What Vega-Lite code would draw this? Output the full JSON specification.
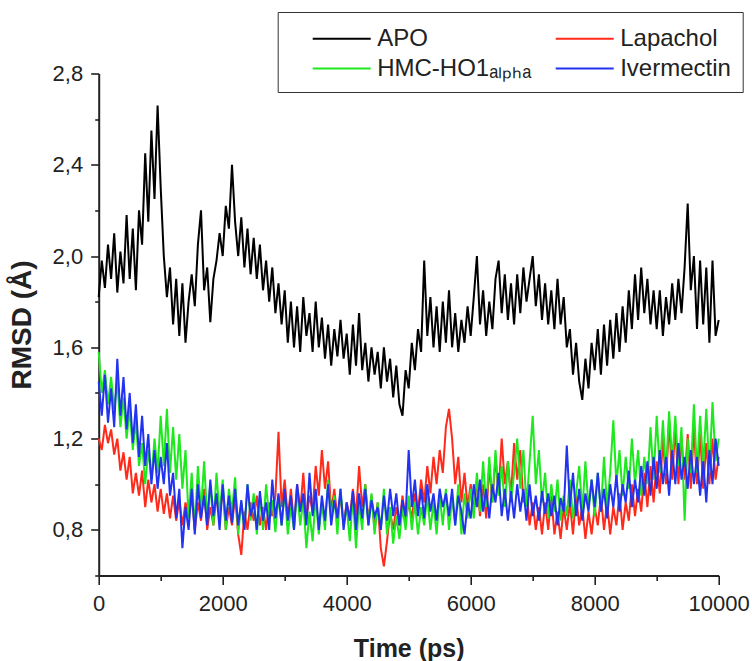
{
  "$schema": "https://vega.github.io/schema/vega-lite/v6.json",
  "width": 620,
  "height": 502,
  "autosize": {"type": "none"},
  "padding": {"left": 98.7, "top": 73.5, "right": 33.3, "bottom": 85.5},
  "background": "white",
  "config": {
    "view": {"stroke": null},
    "font": "Liberation Sans",
    "axis": {
      "domainColor": "#222", "domainWidth": 2, "tickColor": "#222", "tickWidth": 1.6,
      "labelFont": "Liberation Sans", "labelFontSize": 22, "labelColor": "#222",
      "titleFont": "Liberation Sans", "titleFontWeight": "bold", "titleColor": "#222", "grid": false
    }
  },
  "data": {"values": [
{"t":0,"a":1.82,"l":1.2,"h":1.58,"i":1.45},
{"t":50,"a":1.98,"l":1.15,"h":1.4,"i":1.3},
{"t":100,"a":1.86,"l":1.26,"h":1.5,"i":1.48},
{"t":150,"a":2.05,"l":1.18,"h":1.35,"i":1.27},
{"t":200,"a":1.9,"l":1.24,"h":1.47,"i":1.42},
{"t":250,"a":2.1,"l":1.13,"h":1.33,"i":1.25},
{"t":300,"a":1.84,"l":1.2,"h":1.45,"i":1.55},
{"t":350,"a":2.02,"l":1.06,"h":1.25,"i":1.3},
{"t":400,"a":1.88,"l":1.14,"h":1.38,"i":1.47},
{"t":450,"a":2.18,"l":1.02,"h":1.2,"i":1.24},
{"t":500,"a":1.9,"l":1.12,"h":1.33,"i":1.4},
{"t":550,"a":2.12,"l":0.96,"h":1.15,"i":1.18},
{"t":600,"a":1.85,"l":1.05,"h":1.28,"i":1.35},
{"t":650,"a":2.2,"l":0.95,"h":1.08,"i":1.12},
{"t":700,"a":2.05,"l":1.06,"h":1.18,"i":1.3},
{"t":750,"a":2.45,"l":0.9,"h":1.0,"i":1.08},
{"t":800,"a":2.15,"l":1.02,"h":1.15,"i":1.22},
{"t":850,"a":2.55,"l":0.92,"h":1.02,"i":1.0},
{"t":900,"a":2.25,"l":1.0,"h":1.2,"i":1.15},
{"t":950,"a":2.66,"l":0.88,"h":1.05,"i":0.98},
{"t":1000,"a":2.3,"l":0.98,"h":1.3,"i":1.12},
{"t":1050,"a":2.0,"l":0.87,"h":1.08,"i":1.0},
{"t":1100,"a":1.82,"l":0.96,"h":1.33,"i":1.18},
{"t":1150,"a":1.95,"l":0.85,"h":1.05,"i":0.95},
{"t":1200,"a":1.7,"l":0.95,"h":1.25,"i":1.05},
{"t":1250,"a":1.9,"l":0.84,"h":1.02,"i":0.85},
{"t":1300,"a":1.65,"l":0.93,"h":1.22,"i":0.98},
{"t":1350,"a":1.88,"l":0.82,"h":0.98,"i":0.72},
{"t":1400,"a":1.62,"l":0.92,"h":1.15,"i":0.9},
{"t":1450,"a":1.8,"l":0.86,"h":0.85,"i":0.8},
{"t":1500,"a":1.92,"l":0.95,"h":1.05,"i":0.98},
{"t":1550,"a":1.78,"l":0.8,"h":0.8,"i":0.78},
{"t":1600,"a":2.05,"l":0.92,"h":1.08,"i":1.0},
{"t":1650,"a":2.2,"l":0.84,"h":0.88,"i":0.85},
{"t":1700,"a":1.85,"l":0.98,"h":1.1,"i":0.95},
{"t":1750,"a":1.95,"l":0.8,"h":0.85,"i":0.82},
{"t":1800,"a":1.71,"l":0.9,"h":1.0,"i":1.02},
{"t":1850,"a":1.9,"l":0.82,"h":0.82,"i":0.86},
{"t":1900,"a":1.98,"l":0.95,"h":1.05,"i":0.96},
{"t":1950,"a":2.1,"l":0.86,"h":0.86,"i":0.8},
{"t":2000,"a":2.0,"l":0.98,"h":1.02,"i":1.0},
{"t":2050,"a":2.22,"l":0.8,"h":0.8,"i":0.84},
{"t":2100,"a":2.12,"l":0.9,"h":0.98,"i":0.95},
{"t":2150,"a":2.4,"l":0.82,"h":0.88,"i":0.83},
{"t":2200,"a":2.15,"l":0.95,"h":1.03,"i":0.98},
{"t":2250,"a":2.0,"l":0.78,"h":0.78,"i":0.82},
{"t":2300,"a":2.17,"l":0.69,"h":0.92,"i":0.93},
{"t":2350,"a":1.95,"l":0.88,"h":0.8,"i":0.8},
{"t":2400,"a":2.12,"l":0.8,"h":1.0,"i":1.0},
{"t":2450,"a":1.92,"l":0.92,"h":0.84,"i":0.86},
{"t":2500,"a":2.08,"l":0.84,"h":0.96,"i":0.92},
{"t":2550,"a":1.9,"l":0.95,"h":0.78,"i":0.8},
{"t":2600,"a":2.05,"l":0.82,"h":0.95,"i":0.97},
{"t":2650,"a":1.85,"l":0.9,"h":0.8,"i":0.84},
{"t":2700,"a":1.98,"l":0.8,"h":1.0,"i":0.92},
{"t":2750,"a":1.8,"l":0.92,"h":0.85,"i":0.8},
{"t":2800,"a":1.95,"l":0.86,"h":0.93,"i":1.02},
{"t":2850,"a":1.75,"l":0.95,"h":0.79,"i":0.85},
{"t":2900,"a":1.88,"l":1.23,"h":0.95,"i":0.96},
{"t":2950,"a":1.7,"l":0.9,"h":0.82,"i":0.82},
{"t":3000,"a":1.85,"l":1.02,"h":0.97,"i":0.98},
{"t":3050,"a":1.62,"l":0.85,"h":0.78,"i":0.84},
{"t":3100,"a":1.8,"l":0.98,"h":0.9,"i":0.95},
{"t":3150,"a":1.6,"l":0.82,"h":0.8,"i":0.8},
{"t":3200,"a":1.78,"l":1.0,"h":0.98,"i":1.0},
{"t":3250,"a":1.58,"l":0.88,"h":0.82,"i":0.88},
{"t":3300,"a":1.82,"l":1.05,"h":0.93,"i":0.96},
{"t":3350,"a":1.65,"l":0.85,"h":0.72,"i":0.82},
{"t":3400,"a":1.75,"l":0.95,"h":0.88,"i":1.05},
{"t":3450,"a":1.58,"l":0.88,"h":0.75,"i":0.86},
{"t":3500,"a":1.8,"l":1.08,"h":0.95,"i":0.98},
{"t":3550,"a":1.6,"l":0.95,"h":0.78,"i":0.8},
{"t":3600,"a":1.73,"l":1.15,"h":0.92,"i":0.95},
{"t":3650,"a":1.55,"l":0.98,"h":0.8,"i":0.84},
{"t":3700,"a":1.7,"l":1.1,"h":1.02,"i":1.0},
{"t":3750,"a":1.52,"l":0.88,"h":0.85,"i":0.82},
{"t":3800,"a":1.68,"l":0.98,"h":0.95,"i":0.93},
{"t":3850,"a":1.56,"l":0.85,"h":0.78,"i":0.85},
{"t":3900,"a":1.72,"l":0.95,"h":0.98,"i":0.98},
{"t":3950,"a":1.55,"l":0.82,"h":0.82,"i":0.8},
{"t":4000,"a":1.66,"l":0.92,"h":0.9,"i":0.92},
{"t":4050,"a":1.48,"l":0.85,"h":0.75,"i":0.84},
{"t":4100,"a":1.7,"l":0.98,"h":0.95,"i":0.97},
{"t":4150,"a":1.52,"l":0.86,"h":0.72,"i":0.8},
{"t":4200,"a":1.75,"l":1.08,"h":0.92,"i":0.96},
{"t":4250,"a":1.5,"l":0.9,"h":0.8,"i":0.85},
{"t":4300,"a":1.62,"l":1.0,"h":1.0,"i":0.98},
{"t":4350,"a":1.45,"l":0.84,"h":0.82,"i":0.82},
{"t":4400,"a":1.6,"l":0.95,"h":0.96,"i":0.93},
{"t":4450,"a":1.48,"l":0.8,"h":0.78,"i":0.86},
{"t":4500,"a":1.58,"l":0.92,"h":0.92,"i":0.9},
{"t":4550,"a":1.42,"l":0.72,"h":0.8,"i":0.8},
{"t":4600,"a":1.6,"l":0.64,"h":0.98,"i":0.95},
{"t":4650,"a":1.45,"l":0.75,"h":0.78,"i":0.84},
{"t":4700,"a":1.55,"l":0.88,"h":0.9,"i":0.98},
{"t":4750,"a":1.38,"l":0.8,"h":0.74,"i":0.86},
{"t":4800,"a":1.52,"l":0.9,"h":0.86,"i":0.96},
{"t":4850,"a":1.35,"l":0.82,"h":0.76,"i":0.82},
{"t":4900,"a":1.3,"l":0.95,"h":0.9,"i":0.93},
{"t":4950,"a":1.5,"l":0.84,"h":0.8,"i":0.86},
{"t":5000,"a":1.42,"l":0.92,"h":0.95,"i":1.15},
{"t":5050,"a":1.62,"l":0.85,"h":0.8,"i":0.9},
{"t":5100,"a":1.5,"l":0.96,"h":0.92,"i":1.02},
{"t":5150,"a":1.68,"l":0.88,"h":0.78,"i":0.86},
{"t":5200,"a":1.58,"l":1.02,"h":0.9,"i":0.98},
{"t":5250,"a":1.98,"l":0.92,"h":0.82,"i":0.85},
{"t":5300,"a":1.65,"l":1.08,"h":0.95,"i":1.0},
{"t":5350,"a":1.82,"l":0.96,"h":0.8,"i":0.88},
{"t":5400,"a":1.6,"l":1.12,"h":0.92,"i":0.96},
{"t":5450,"a":1.78,"l":1.0,"h":0.78,"i":0.84},
{"t":5500,"a":1.58,"l":1.15,"h":0.95,"i":0.98},
{"t":5550,"a":1.8,"l":1.05,"h":0.82,"i":0.9},
{"t":5600,"a":1.62,"l":1.25,"h":0.98,"i":0.96},
{"t":5650,"a":1.85,"l":1.33,"h":0.8,"i":0.86},
{"t":5700,"a":1.6,"l":1.2,"h":0.94,"i":0.98},
{"t":5750,"a":1.75,"l":1.0,"h":0.82,"i":0.82},
{"t":5800,"a":1.58,"l":1.12,"h":1.0,"i":0.95},
{"t":5850,"a":1.72,"l":0.92,"h":0.78,"i":0.88},
{"t":5900,"a":1.62,"l":1.05,"h":0.96,"i":0.78},
{"t":5950,"a":1.78,"l":0.9,"h":0.85,"i":0.92},
{"t":6000,"a":1.65,"l":1.0,"h":0.98,"i":0.85},
{"t":6050,"a":1.82,"l":0.88,"h":0.85,"i":1.0},
{"t":6100,"a":2.0,"l":1.02,"h":1.05,"i":0.9},
{"t":6150,"a":1.7,"l":0.86,"h":0.88,"i":1.02},
{"t":6200,"a":1.85,"l":1.0,"h":1.1,"i":0.88},
{"t":6250,"a":1.65,"l":0.85,"h":0.9,"i":0.98},
{"t":6300,"a":1.8,"l":1.08,"h":1.12,"i":0.85},
{"t":6350,"a":1.68,"l":0.92,"h":0.92,"i":1.0},
{"t":6400,"a":1.9,"l":1.12,"h":1.15,"i":0.92},
{"t":6450,"a":1.98,"l":0.96,"h":0.95,"i":1.05},
{"t":6500,"a":1.75,"l":1.2,"h":1.08,"i":0.86},
{"t":6550,"a":1.92,"l":1.0,"h":0.9,"i":0.98},
{"t":6600,"a":1.72,"l":1.1,"h":1.1,"i":0.84},
{"t":6650,"a":1.88,"l":0.95,"h":0.92,"i":0.97},
{"t":6700,"a":1.7,"l":1.18,"h":1.05,"i":0.85},
{"t":6750,"a":1.92,"l":1.02,"h":1.2,"i":1.0},
{"t":6800,"a":1.75,"l":1.15,"h":0.98,"i":0.88},
{"t":6850,"a":1.95,"l":0.92,"h":1.15,"i":0.98},
{"t":6900,"a":1.8,"l":0.98,"h":0.9,"i":0.84},
{"t":6950,"a":1.9,"l":0.82,"h":1.1,"i":1.0},
{"t":7000,"a":2.0,"l":0.92,"h":1.3,"i":0.86},
{"t":7050,"a":1.78,"l":0.8,"h":1.0,"i":0.95},
{"t":7100,"a":1.92,"l":0.9,"h":1.15,"i":0.84},
{"t":7150,"a":1.72,"l":0.78,"h":0.92,"i":0.97},
{"t":7200,"a":1.88,"l":0.92,"h":1.05,"i":0.87},
{"t":7250,"a":1.7,"l":0.8,"h":0.85,"i":0.96},
{"t":7300,"a":1.85,"l":0.95,"h":1.0,"i":0.86},
{"t":7350,"a":1.68,"l":0.78,"h":0.88,"i":0.95},
{"t":7400,"a":1.9,"l":0.88,"h":1.02,"i":0.82},
{"t":7450,"a":1.7,"l":0.76,"h":0.84,"i":0.94},
{"t":7500,"a":1.82,"l":0.9,"h":0.95,"i":0.88},
{"t":7550,"a":1.6,"l":0.8,"h":0.86,"i":1.17},
{"t":7600,"a":1.68,"l":0.92,"h":1.02,"i":0.9},
{"t":7650,"a":1.48,"l":0.78,"h":0.85,"i":1.05},
{"t":7700,"a":1.62,"l":0.95,"h":0.96,"i":0.86},
{"t":7750,"a":1.45,"l":0.82,"h":1.08,"i":0.98},
{"t":7800,"a":1.37,"l":0.9,"h":0.88,"i":0.84},
{"t":7850,"a":1.55,"l":0.76,"h":1.1,"i":0.96},
{"t":7900,"a":1.42,"l":0.88,"h":0.9,"i":0.88},
{"t":7950,"a":1.62,"l":0.78,"h":1.02,"i":1.02},
{"t":8000,"a":1.5,"l":0.9,"h":0.86,"i":0.9},
{"t":8050,"a":1.68,"l":0.82,"h":1.05,"i":1.05},
{"t":8100,"a":1.48,"l":0.95,"h":0.88,"i":0.88},
{"t":8150,"a":1.7,"l":0.8,"h":1.12,"i":0.98},
{"t":8200,"a":1.52,"l":0.92,"h":0.9,"i":0.85},
{"t":8250,"a":1.72,"l":0.78,"h":1.05,"i":1.0},
{"t":8300,"a":1.55,"l":0.9,"h":1.28,"i":0.9},
{"t":8350,"a":1.75,"l":0.82,"h":1.0,"i":1.04},
{"t":8400,"a":1.58,"l":0.96,"h":1.15,"i":0.88},
{"t":8450,"a":1.78,"l":0.8,"h":0.95,"i":1.0},
{"t":8500,"a":1.62,"l":0.92,"h":1.12,"i":0.92},
{"t":8550,"a":1.85,"l":0.84,"h":0.98,"i":1.06},
{"t":8600,"a":1.68,"l":1.0,"h":1.2,"i":0.9},
{"t":8650,"a":1.92,"l":0.86,"h":1.0,"i":1.02},
{"t":8700,"a":1.72,"l":0.98,"h":1.15,"i":0.92},
{"t":8750,"a":1.95,"l":0.88,"h":0.95,"i":1.08},
{"t":8800,"a":1.75,"l":1.05,"h":1.12,"i":0.95},
{"t":8850,"a":1.9,"l":0.9,"h":1.0,"i":1.1},
{"t":8900,"a":1.7,"l":1.08,"h":1.25,"i":0.95},
{"t":8950,"a":1.85,"l":0.92,"h":1.02,"i":1.12},
{"t":9000,"a":1.68,"l":1.1,"h":1.3,"i":0.98},
{"t":9050,"a":1.85,"l":0.96,"h":1.05,"i":1.15},
{"t":9100,"a":1.65,"l":1.2,"h":1.28,"i":1.0},
{"t":9150,"a":1.82,"l":1.0,"h":1.05,"i":1.12},
{"t":9200,"a":1.7,"l":1.28,"h":1.32,"i":0.95},
{"t":9250,"a":1.88,"l":1.02,"h":1.1,"i":1.15},
{"t":9300,"a":1.72,"l":1.25,"h":1.3,"i":1.0},
{"t":9350,"a":1.9,"l":1.0,"h":1.08,"i":1.18},
{"t":9400,"a":1.75,"l":1.2,"h":1.25,"i":1.02},
{"t":9450,"a":1.95,"l":1.02,"h":0.84,"i":1.12},
{"t":9500,"a":2.23,"l":1.22,"h":1.2,"i":0.98},
{"t":9550,"a":1.85,"l":0.98,"h":1.05,"i":1.15},
{"t":9600,"a":2.0,"l":1.25,"h":1.35,"i":1.0},
{"t":9650,"a":1.68,"l":1.0,"h":1.05,"i":1.12},
{"t":9700,"a":1.98,"l":1.22,"h":1.3,"i":0.95},
{"t":9750,"a":1.7,"l":0.98,"h":1.08,"i":1.1},
{"t":9800,"a":1.95,"l":1.18,"h":1.33,"i":0.92},
{"t":9850,"a":1.62,"l":1.0,"h":1.05,"i":1.15},
{"t":9900,"a":1.98,"l":1.2,"h":1.36,"i":1.0},
{"t":9950,"a":1.65,"l":1.02,"h":1.1,"i":1.2},
{"t":10000,"a":1.72,"l":1.12,"h":1.2,"i":1.08}
  ]},
  "transform": [{"fold": ["a", "l", "h", "i"], "as": ["series", "rmsd"]}],
  "mark": {"type": "line", "strokeWidth": 2, "interpolate": "linear"},
  "encoding": {
    "x": {
      "field": "t", "type": "quantitative", "title": "Time (ps)",
      "scale": {"domain": [0, 10000], "nice": false, "zero": false},
      "axis": {
        "values": [0, 1000, 2000, 3000, 4000, 5000, 6000, 7000, 8000, 9000, 10000],
        "labelExpr": "datum.value % 2000 == 0 ? format(datum.value, 'd') : ''",
        "tickSize": {"condition": {"test": "datum.value % 2000 == 0", "value": 9}, "value": 5},
        "labelPadding": 9, "titleFontSize": 25, "titlePadding": 22, "labelFlush": false, "labelOverlap": false
      }
    },
    "y": {
      "field": "rmsd", "type": "quantitative", "title": "RMSD (Å)",
      "scale": {"domain": [0.6, 2.8], "nice": false, "zero": false},
      "axis": {
        "values": [0.6, 0.8, 1.0, 1.2, 1.4, 1.6, 1.8, 2.0, 2.2, 2.4, 2.6, 2.8],
        "labelExpr": "round(datum.value * 10) % 4 == 0 ? replace(format(datum.value, '.1f'), '.', ',') : ''",
        "tickSize": {"condition": {"test": "round(datum.value * 10) % 4 == 0", "value": 8}, "value": 4},
        "labelPadding": 8, "titleFontSize": 28, "titlePadding": 16, "labelFlush": false, "labelOverlap": false
      }
    },
    "color": {
      "field": "series", "type": "nominal",
      "scale": {"domain": ["a", "l", "h", "i"], "range": ["#000000", "#ff2a1a", "#1ee81e", "#2233f0"]},
      "legend": {
        "title": null, "orient": "none", "legendX": 179, "legendY": -61.5,
        "direction": "horizontal", "columns": 2,
        "labelExpr": "datum.value == 'a' ? 'APO' : datum.value == 'l' ? 'Lapachol' : datum.value == 'h' ? 'HMC-HO1ₐₗₚₕₐ' : 'Ivermectin'",
        "symbolType": "M-2,0H2", "symbolSize": 841, "symbolStrokeWidth": 2,
        "labelFont": "Liberation Sans", "labelFontSize": 24, "labelColor": "#222", "labelOffset": 20, "labelLimit": 400,
        "strokeColor": "#333", "fillColor": "white", "padding": 11, "symbolOffset": 37.5,
        "rowPadding": 2, "columnPadding": 0
      }
    }
  }
}
